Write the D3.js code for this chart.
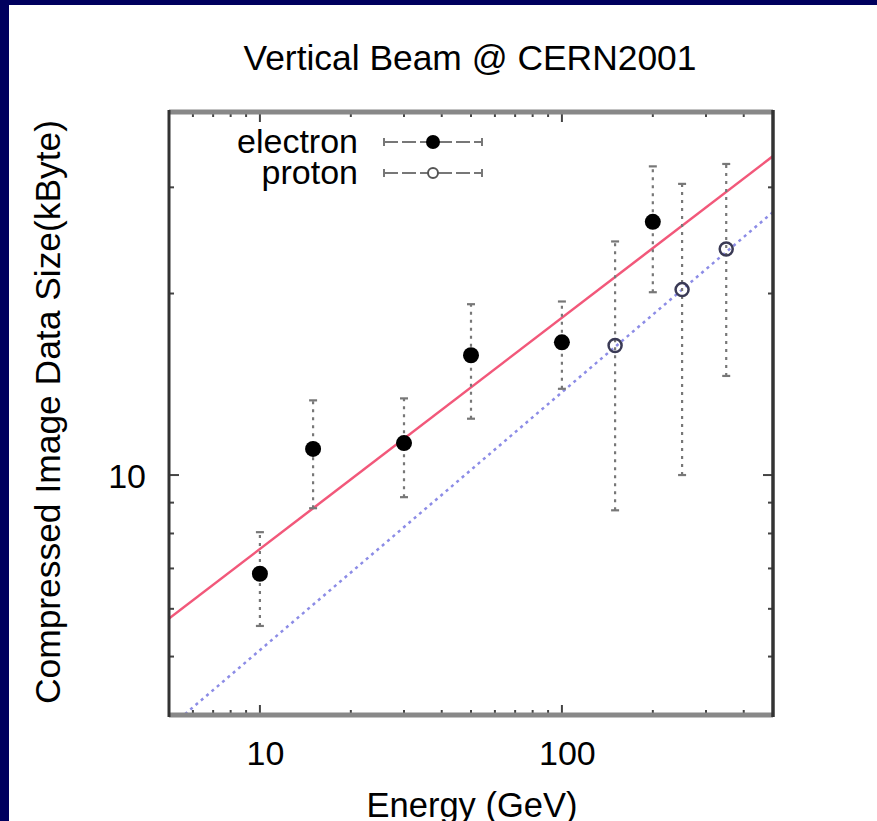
<!DOCTYPE html>
<html>
<head>
<meta charset="utf-8">
<script src="https://cdn.jsdelivr.net/npm/d3@7/dist/d3.min.js"></script>
<style>
  html, body { margin: 0; padding: 0; background: #00005e; }
  svg { display: block; }
  text { font-family: "Liberation Sans", Arial, Helvetica, sans-serif; fill: #000; }
</style>
</head>
<body>
<svg id="chart" width="877" height="821"></svg>
<script>
// Beam energies (GeV) and compressed image sizes (kByte) with error ranges
const electronE    = [10, 15, 30, 50, 100, 200];
const electronSize = [6.86, 11.05, 11.3, 15.8, 16.6, 26.3];
const electronLow  = [5.62, 8.81, 9.19, 12.4, 13.9, 20.1];
const electronHigh = [8.04, 13.3, 13.4, 19.2, 19.4, 32.5];

const protonE    = [150, 250, 350];
const protonSize = [16.4, 20.3, 23.7];
const protonLow  = [8.74, 10.0, 14.6];
const protonHigh = [24.4, 30.4, 32.8];

// Power-law fits, given by their values at the ends of the energy range
const fitE        = [5, 500];
const fitElectron = [5.78, 33.8];
const fitProton   = [3.81, 27.3];

// Axis ranges and labelled ticks
const xDomain = [5, 500];
const yDomain = [4, 40];
const xTickLabels = [10, 100];
const yTickLabels = [10];
const xMinorTicks = [6, 7, 8, 9, 20, 30, 40, 50, 60, 70, 80, 90, 200, 300, 400];
const yMinorTicks = [5, 6, 7, 8, 9, 20, 30];

const seriesNames = ["electron", "proton"];

const svg = d3.select("#chart");
const W = 877, H = 821;

// page frame
svg.append("rect").attr("x", 9).attr("y", 5).attr("width", W - 9).attr("height", H - 5).attr("fill", "#fff");

const plot = { left: 169, right: 773, top: 112, bottom: 715 };

const x = d3.scaleLog().domain(xDomain).range([plot.left, plot.right]);
const y = d3.scaleLog().domain(yDomain).range([plot.bottom, plot.top]);

// clip region for the fit lines
svg.append("clipPath").attr("id", "plotClip")
  .append("rect")
  .attr("x", plot.left).attr("y", plot.top)
  .attr("width", plot.right - plot.left).attr("height", plot.bottom - plot.top);

// title
svg.append("text")
  .attr("x", 470).attr("y", 70)
  .attr("text-anchor", "middle")
  .attr("font-size", 35.4)
  .text("Vertical Beam @ CERN2001");

// axis titles
svg.append("text")
  .attr("x", 472).attr("y", 817)
  .attr("text-anchor", "middle")
  .attr("font-size", 34.5)
  .text("Energy (GeV)");

svg.append("text")
  .attr("transform", "translate(60,412) rotate(-90)")
  .attr("text-anchor", "middle")
  .attr("font-size", 35.4)
  .text("Compressed Image Data Size(kByte)");

// ticks: inward on all four sides
const axisBottom = d3.axisBottom(x).tickValues(xTickLabels).tickSize(0).tickFormat(d3.format("d"));
const axisLeft = d3.axisLeft(y).tickValues(yTickLabels).tickSize(0).tickFormat(d3.format("d"));

const ticks = svg.append("g").attr("stroke", "#444").attr("stroke-width", 2);
function xTick(v, len) {
  ticks.append("line").attr("x1", x(v)).attr("x2", x(v)).attr("y1", plot.bottom).attr("y2", plot.bottom - len);
  ticks.append("line").attr("x1", x(v)).attr("x2", x(v)).attr("y1", plot.top).attr("y2", plot.top + len);
}
function yTick(v, len) {
  ticks.append("line").attr("y1", y(v)).attr("y2", y(v)).attr("x1", plot.left).attr("x2", plot.left + len);
  ticks.append("line").attr("y1", y(v)).attr("y2", y(v)).attr("x1", plot.right).attr("x2", plot.right - len);
}
xTickLabels.forEach(v => xTick(v, 10));
xMinorTicks.forEach(v => xTick(v, 5));
yTickLabels.forEach(v => yTick(v, 10));
yMinorTicks.forEach(v => yTick(v, 5));

// tick labels through d3 axes
const gx = svg.append("g").attr("transform", `translate(5,${plot.bottom})`).call(axisBottom);
gx.select(".domain").remove();
gx.selectAll("text").attr("font-size", 34).attr("dy", 0).attr("y", 50)
  .attr("font-family", "Liberation Sans, Arial, sans-serif").attr("fill", "#000");

const gy = svg.append("g").attr("transform", `translate(${plot.left},0)`).call(axisLeft);
gy.select(".domain").remove();
gy.selectAll("text").attr("font-size", 34).attr("dy", "0.36em").attr("x", -23)
  .attr("font-family", "Liberation Sans, Arial, sans-serif").attr("fill", "#000");

// fit lines
const fitLine = d3.line().x((d, i) => x(fitE[i])).y(d => y(d));
const fits = svg.append("g").attr("clip-path", "url(#plotClip)");
fits.append("path").datum(fitElectron).attr("d", fitLine)
  .attr("fill", "none").attr("stroke", "#f2587a").attr("stroke-width", 2.5);
fits.append("path").datum(fitProton).attr("d", fitLine)
  .attr("fill", "none").attr("stroke", "#8c8ce6").attr("stroke-width", 2.5)
  .attr("stroke-dasharray", "3,4");

// error bars
function errorBars(E, lo, hi) {
  const g = svg.append("g").attr("stroke", "#777").attr("stroke-width", 2.2);
  E.forEach((e, i) => {
    g.append("line").attr("x1", x(e)).attr("x2", x(e)).attr("y1", y(lo[i])).attr("y2", y(hi[i]))
      .attr("stroke-dasharray", "3,5");
    [lo[i], hi[i]].forEach(v => {
      g.append("line").attr("x1", x(e) - 4).attr("x2", x(e) + 4).attr("y1", y(v)).attr("y2", y(v));
    });
  });
}
errorBars(electronE, electronLow, electronHigh);
errorBars(protonE, protonLow, protonHigh);

// points
svg.append("g").selectAll("circle").data(electronE).join("circle")
  .attr("cx", d => x(d)).attr("cy", (d, i) => y(electronSize[i])).attr("r", 8)
  .attr("fill", "#000");
svg.append("g").selectAll("circle").data(protonE).join("circle")
  .attr("cx", d => x(d)).attr("cy", (d, i) => y(protonSize[i])).attr("r", 6.5)
  .attr("fill", "none").attr("stroke", "#3a3a55").attr("stroke-width", 2.5);

// plot border: horizontal edges grey, vertical edges dark
svg.append("line").attr("x1", plot.left).attr("x2", plot.right).attr("y1", plot.top).attr("y2", plot.top)
  .attr("stroke", "#888").attr("stroke-width", 5);
svg.append("line").attr("x1", plot.left).attr("x2", plot.right).attr("y1", plot.bottom).attr("y2", plot.bottom)
  .attr("stroke", "#888").attr("stroke-width", 5);
svg.append("line").attr("x1", plot.left).attr("x2", plot.left).attr("y1", plot.top - 2).attr("y2", plot.bottom + 2)
  .attr("stroke", "#333").attr("stroke-width", 3);
svg.append("line").attr("x1", plot.right).attr("x2", plot.right).attr("y1", plot.top - 2).attr("y2", plot.bottom + 2)
  .attr("stroke", "#333").attr("stroke-width", 3.5);

// legend
const legend = svg.append("g");
const legendY = [142, 173];
seriesNames.forEach((name, i) => {
  const ly = legendY[i];
  legend.append("text").attr("x", 358).attr("y", ly + 11).attr("text-anchor", "end")
    .attr("font-size", 34).text(name);
  const g = legend.append("g").attr("stroke", "#777").attr("stroke-width", 2);
  g.append("line").attr("x1", 384).attr("x2", 482).attr("y1", ly).attr("y2", ly).attr("stroke-dasharray", "14,4");
  g.append("line").attr("x1", 384).attr("x2", 384).attr("y1", ly - 4).attr("y2", ly + 4);
  g.append("line").attr("x1", 482).attr("x2", 482).attr("y1", ly - 4).attr("y2", ly + 4);
  if (i === 0) {
    legend.append("circle").attr("cx", 433).attr("cy", ly).attr("r", 7).attr("fill", "#000");
  } else {
    legend.append("circle").attr("cx", 433).attr("cy", ly).attr("r", 5).attr("fill", "#fff")
      .attr("stroke", "#555").attr("stroke-width", 2);
  }
});
</script>
</body>
</html>
